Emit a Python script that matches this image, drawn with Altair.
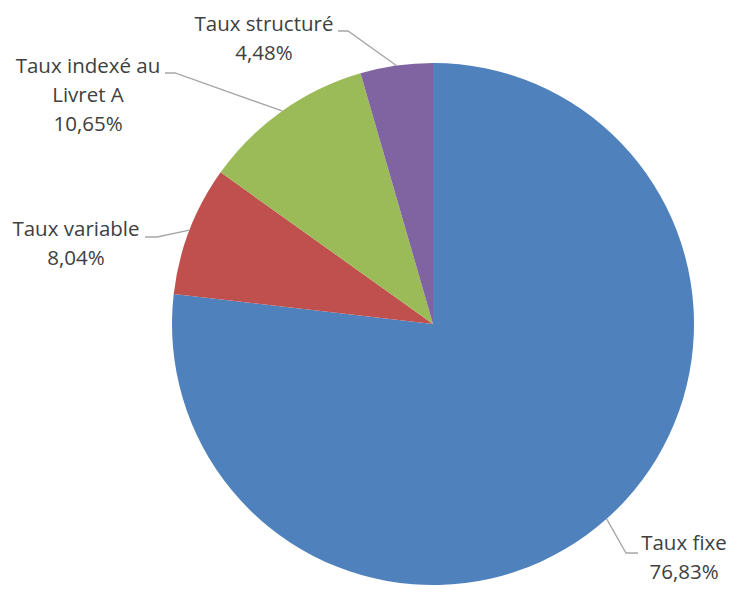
import math
import altair as alt
import pandas as pd

# ---- data ----
categories = ["Taux fixe", "Taux variable", "Taux indexé au\nLivret A", "Taux structuré"]
values = [76.83, 8.04, 10.65, 4.48]
colors = ["#4F81BD", "#C0504D", "#9BBB59", "#8064A2"]

# ---- layout (page pixels) ----
W, H = 719, 578
CX, CY, R = 433, 324, 261
# first label line centre, leader elbow and leader end, as offsets from pie centre
label_offset = [(251, 220), (-357, -94), (-345, -257), (-169, -299)]
elbow_offset = [(193, 229), (-276, -87), (-258, -251), (-85, -293)]
end_offset = [(205, 229), (-288, -87), (-268, -251), (-95, -293)]

total = sum(values)
pie_df = pd.DataFrame({
    "cat": categories,
    "value": values,
    "order": list(range(len(values))),
})

labels, lines = [], []
cum = 0.0
for i, (c, v) in enumerate(zip(categories, values)):
    mid = (cum + v / 2) / total * 2 * math.pi
    cum += v
    ex, ey = CX + R * math.sin(mid), CY - R * math.cos(mid)
    txt = c + "\n" + f"{v:.2f}".replace(".", ",") + "%"
    labels.append({"cat": c, "txt": txt,
                   "px": CX + label_offset[i][0], "py": CY + label_offset[i][1]})
    pts = [(ex, ey),
           (CX + elbow_offset[i][0], CY + elbow_offset[i][1]),
           (CX + end_offset[i][0], CY + end_offset[i][1])]
    for k, (px, py) in enumerate(pts):
        lines.append({"cat": c, "step": k, "px": px, "py": py})

lab_df = pd.DataFrame(labels)
line_df = pd.DataFrame(lines)

xs = alt.Scale(domain=[8, 8 + W], nice=False, zero=False)
ys = alt.Scale(domain=[8 + H, 8], nice=False, zero=False)

pie = alt.Chart(pie_df).mark_arc(outerRadius=R, stroke=None).encode(
    theta=alt.Theta("value:Q", stack=True),
    color=alt.Color("cat:N", scale=alt.Scale(domain=categories, range=colors), legend=None),
    order=alt.Order("order:Q"),
    x=alt.value(CX - 8),
    y=alt.value(CY - 8),
)

leader = alt.Chart(line_df).mark_line(color="#A6A6A6", strokeWidth=1.3).encode(
    x=alt.X("px:Q", scale=xs, axis=None),
    y=alt.Y("py:Q", scale=ys, axis=None),
    detail="cat:N",
    order="step:Q",
)

text = alt.Chart(lab_df).mark_text(
    lineBreak="\n", lineHeight=29, font="Open Sans", fontSize=20.5,
    color="#404040", align="center", baseline="middle",
).encode(
    x=alt.X("px:Q", scale=xs, axis=None),
    y=alt.Y("py:Q", scale=ys, axis=None),
    text="txt:N",
)

chart = alt.layer(pie, leader, text).properties(
    width=W, height=H, padding=0,
    autosize=alt.AutoSizeParams(type="none"),
).configure_view(strokeWidth=0)

chart.save("out.html", embed_options={"renderer": "svg", "actions": False})
